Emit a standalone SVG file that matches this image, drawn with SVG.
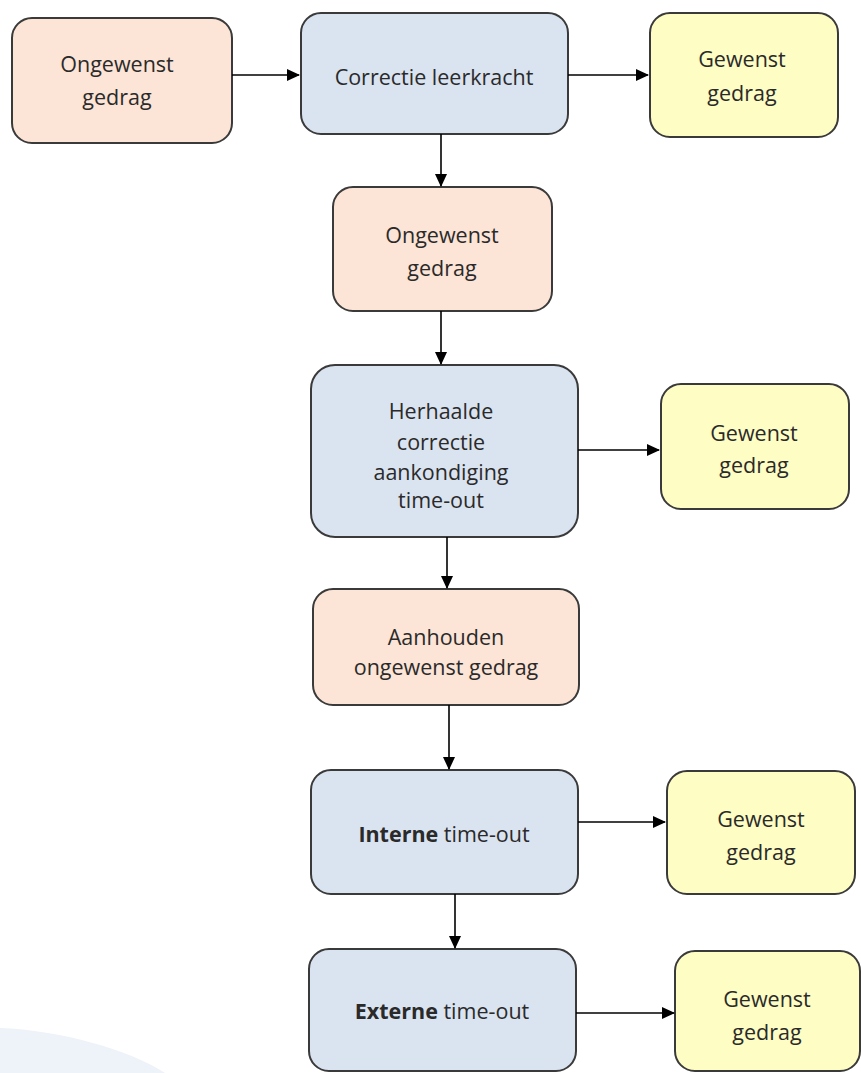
<svg xmlns="http://www.w3.org/2000/svg" width="861" height="1073" viewBox="0 0 861 1073">
<defs>
<marker id="ah" markerWidth="13" markerHeight="12" refX="12" refY="6" orient="auto" markerUnits="userSpaceOnUse">
<path d="M0,0 L13,6 L0,12 Z" fill="#000"/>
</marker>
<style>
.n rect{stroke:#3a3a3a;stroke-width:2}
.peach rect{fill:#fce4d6}
.blue rect{fill:#dae3f0}
.yel rect{fill:#fefdc4}
text{font-family:"Open Sans","Liberation Sans",sans-serif;font-size:21.5px;fill:#2a2a2a;text-anchor:middle}
.c line{stroke:#000;stroke-width:1.6;marker-end:url(#ah)}
</style>
</defs>
<rect width="861" height="1073" fill="#fff"/>
<path d="M0,1028 C60,1030 130,1050 165,1073 L0,1073 Z" fill="#eef2f9"/>
<g id="n1" class="n peach"><rect x="12" y="18" width="220" height="125" rx="20"/><text x="117" y="72">Ongewenst</text><text x="117" y="105">gedrag</text></g>
<g id="n2" class="n blue"><rect x="301" y="13" width="267" height="121" rx="20"/><text x="434" y="85">Correctie leerkracht</text></g>
<g id="n3" class="n yel"><rect x="650" y="13" width="188" height="124" rx="20"/><text x="742" y="67">Gewenst</text><text x="742" y="101">gedrag</text></g>
<g id="n4" class="n peach"><rect x="333" y="187" width="219" height="124" rx="20"/><text x="442" y="243">Ongewenst</text><text x="442" y="276">gedrag</text></g>
<g id="n5" class="n blue"><rect x="311" y="365" width="267" height="172" rx="24"/><text x="441" y="419">Herhaalde</text><text x="441" y="450">correctie</text><text x="441" y="480">aankondiging</text><text x="441" y="508">time-out</text></g>
<g id="n6" class="n yel"><rect x="661" y="384" width="188" height="125" rx="20"/><text x="754" y="441">Gewenst</text><text x="754" y="473">gedrag</text></g>
<g id="n7" class="n peach"><rect x="313" y="589" width="266" height="116" rx="20"/><text x="446" y="645">Aanhouden</text><text x="446" y="675">ongewenst gedrag</text></g>
<g id="n8" class="n blue"><rect x="311" y="770" width="267" height="124" rx="20"/><text x="444" y="842"><tspan font-weight="bold">Interne</tspan> time-out</text></g>
<g id="n9" class="n yel"><rect x="667" y="771" width="188" height="123" rx="20"/><text x="761" y="827">Gewenst</text><text x="761" y="860">gedrag</text></g>
<g id="n10" class="n blue"><rect x="309" y="949" width="267" height="122" rx="20"/><text x="442" y="1019"><tspan font-weight="bold">Externe</tspan> time-out</text></g>
<g id="n11" class="n yel"><rect x="675" y="951" width="185" height="120" rx="20"/><text x="767" y="1007">Gewenst</text><text x="767" y="1040">gedrag</text></g>
<g id="connectors" class="c">
<line x1="232" y1="75" x2="299" y2="75"/>
<line x1="568" y1="75" x2="648" y2="75"/>
<line x1="441" y1="134" x2="441" y2="186"/>
<line x1="441" y1="311" x2="441" y2="364"/>
<line x1="578" y1="450" x2="659" y2="450"/>
<line x1="447" y1="537" x2="447" y2="588"/>
<line x1="449" y1="705" x2="449" y2="769"/>
<line x1="578" y1="822" x2="665" y2="822"/>
<line x1="455" y1="894" x2="455" y2="948"/>
<line x1="576" y1="1013" x2="674" y2="1013"/>
</g>
</svg>
